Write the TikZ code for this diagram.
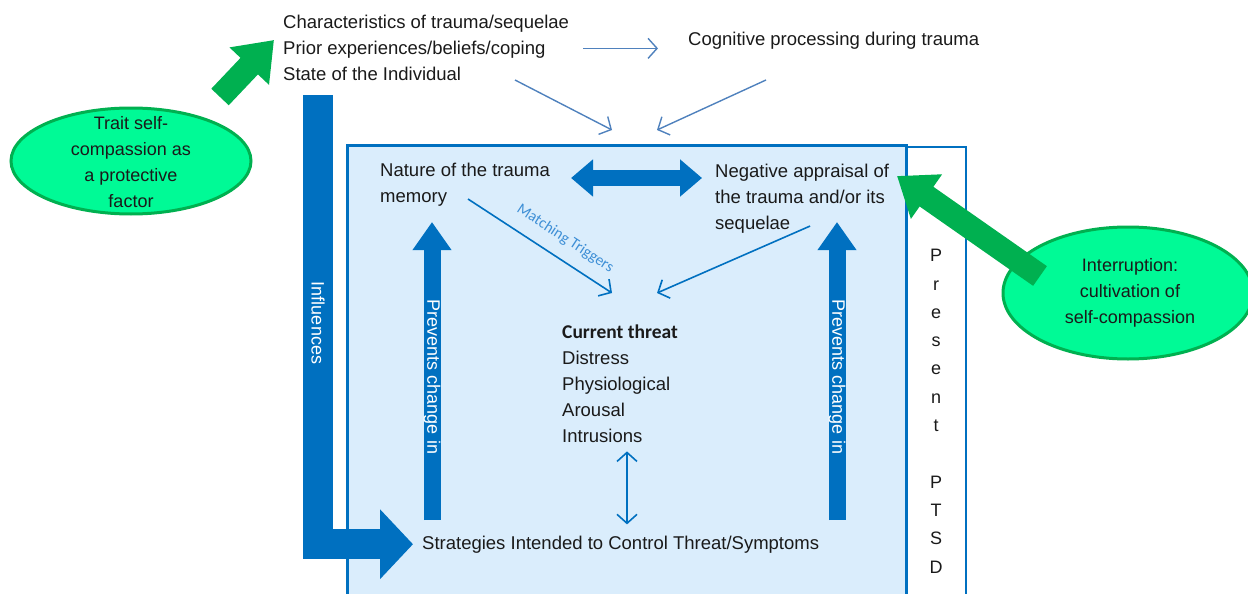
\documentclass[tikz,border=0pt]{standalone}
\usepackage{fontspec}
\setmainfont{Liberation Sans}
\newfontfamily\calibrifont{Carlito}
\usepackage{tikz}
\usetikzlibrary{arrows.meta, positioning, calc}
\definecolor{pblue}{HTML}{0070C0}
\definecolor{plight}{HTML}{DAEDFC}
\definecolor{pthin}{HTML}{4F81BD}
\definecolor{pgreen}{HTML}{00B050}
\definecolor{pmint}{HTML}{00FA96}
\definecolor{plabel}{HTML}{3E8FD6}
\definecolor{ptext}{HTML}{1A1A1A}
\newcommand\mainsz{\fontsize{18.5}{26}\selectfont}
\tikzset{
  txt/.style={font=\mainsz, text=ptext, align=left, inner sep=2pt, anchor=base west},
  ovaltxt/.style={font=\fontsize{18}{25.8}\selectfont, text=ptext, align=center, inner sep=0pt},
  ovalline/.style={draw=pgreen, fill=pmint, line width=3pt},
  bartxt/.style={font=\fontsize{18}{22}\selectfont, text=white, rotate=-90, inner sep=0pt},
  thinarr/.style={-{Straight Barb[length=9pt,width=20pt]}, pthin, line width=1.4pt},
  innerarr/.style={-{Straight Barb[length=9pt,width=20pt]}, pblue, line width=1.6pt},
  blockarr/.style={pblue, line width=17pt, -{Triangle[width=37pt,length=28pt]}},
  influarr/.style={pblue, line width=30pt, -{Triangle[width=68pt,length=33pt]}},
  greenarr/.style={pgreen, line width=24pt, -{Triangle[width=52pt,length=36pt]}},
}

\begin{document}
\begin{tikzpicture}[x=1pt, y=-1pt]
  \useasboundingbox (0,0) rectangle (1248,594);

  %% ── Frames ──
  \fill[plight] (347,145) rectangle (906,600);
  \draw[pblue, line width=3pt] (347,600) -- (347,145) -- (906,145) -- (906,600);
  \draw[pblue, line width=2pt] (906,147) -- (966,147) -- (966,600);

  %% ── Text nodes (placed by the baseline of their last line) ──
  \node[txt] (topfactors) at (281,81)
    {Characteristics of trauma/sequelae\\Prior experiences/beliefs/coping\\State of the Individual};
  \node[txt] (cognitive) at (686,46) {Cognitive processing during trauma};
  \node[txt] (nature) at (378,202) {Nature of the trauma\\memory};
  \node[txt] (negative) at (713,229) {Negative appraisal of\\the trauma and/or its\\sequelae};
  \node[txt] (threat) at (560,442)
    {{\calibrifont\bfseries\fontsize{19.5}{26}\selectfont Current threat}\\Distress\\Physiological\\Arousal\\Intrusions};
  \node[txt] (strategies) at (420,549) {Strategies Intended to Control Threat/Symptoms};
  \node[font=\fontsize{18}{28.3}\selectfont, text=ptext, align=center, anchor=base, inner sep=0pt] (ptsd)
    at (936,573) {P\\r\\e\\s\\e\\n\\t\\\mbox{}\\P\\T\\S\\D};

  %% ── Ovals ──
  \draw[ovalline] (131,161) ellipse (120 and 53);
  \node[ovaltxt] (leftoval) at (131,162) {Trait self-\\compassion as\\a protective\\factor};
  \draw[ovalline] (1128,293) ellipse (125 and 66);
  \node[ovaltxt] (rightoval) at (1130,293) {Interruption:\\cultivation of\\self-compassion};

  %% ── Free ends ──
  \coordinate (influtop) at (318,95);
  \coordinate (gtailL) at (220,97);
  \coordinate (gtipL) at (274,40);
  \coordinate (gtailR) at (1040,276);
  \coordinate (gtipR) at (897,176);
  \coordinate (stateend) at (515,80);
  \coordinate (cogend) at (766,80);
  \coordinate (frametopL) at (612,130);
  \coordinate (frametopR) at (657,130);
  \coordinate (threattopL) at (612,293);
  \coordinate (threattopR) at (657,293);
  \coordinate (prevbotL) at (432,520);
  \coordinate (prevtopL) at (432,222);
  \coordinate (prevbotR) at (837,520);
  \coordinate (prevtopR) at (837,222);
  \coordinate (linkrow) at (0,178);
  \coordinate (threatcol) at (627,0);

  %% ── Block arrows ──
  \draw[influarr] (influtop) |- ([xshift=-7pt]strategies.west);
  \node[bartxt] (influlabel) at (318,323) {Influences};
  \draw[blockarr] (prevbotL) -- (prevtopL);
  \node[bartxt] at (432,377) {Prevents change in};
  \draw[blockarr] (prevbotR) -- (prevtopR);
  \node[bartxt] at (837,377) {Prevents change in};
  \draw[pblue, line width=16pt, {Triangle[width=36pt,length=22pt]}-{Triangle[width=36pt,length=22pt]},
        shorten <=19pt, shorten >=11pt]
    (nature.east |- linkrow) -- (negative.west |- linkrow);

  %% ── Green arrows ──
  \draw[greenarr] (gtailL) -- (gtipL);
  \draw[greenarr] (gtailR) -- (gtipR);

  %% ── Thin arrows ──
  \draw[thinarr, shorten <=12pt, shorten >=28pt] (topfactors.east) -- (topfactors.east -| cognitive.west);
  \draw[thinarr] (stateend) -- (frametopL);
  \draw[thinarr] (cogend) -- (frametopR);
  \draw[innerarr] ([xshift=3pt,yshift=9pt]nature.south) -- (threattopL)
    node[pos=0.6, sloped, above=9pt, font=\calibrifont\fontsize{15.5}{17}\selectfont, text=plabel] {Matching Triggers};
  \draw[innerarr] ([xshift=8pt,yshift=9pt]negative.south) -- (threattopR);
  \draw[innerarr, {Straight Barb[length=9pt,width=20pt]}-{Straight Barb[length=9pt,width=20pt]},
        shorten <=7pt, shorten >=9pt]
    (threat.south -| threatcol) -- (strategies.north -| threatcol);

\end{tikzpicture}
\end{document}
